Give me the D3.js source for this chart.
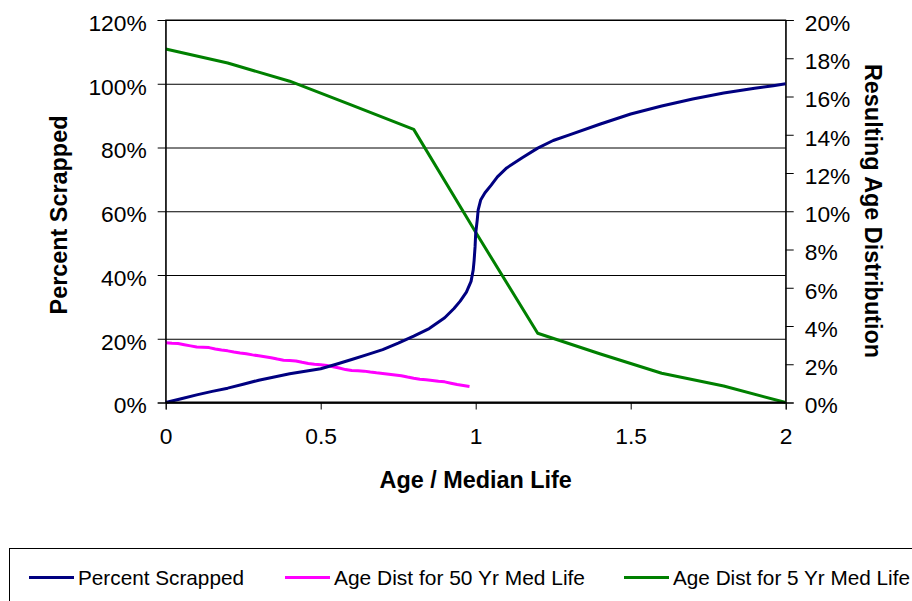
<!DOCTYPE html>
<html>
<head>
<meta charset="utf-8">
<script src="https://cdn.jsdelivr.net/npm/d3@7"></script>
<style>
  html, body { margin: 0; padding: 0; background: #fff; }
  svg { display: block; font-family: "Liberation Sans", Arial, sans-serif; }
</style>
</head>
<body>
<svg id="chart" width="912" height="601"></svg>
<script>
// ---- Data ----
const scrappedAge = [0, 0.05, 0.1, 0.15, 0.2, 0.25, 0.3, 0.35, 0.4, 0.45, 0.5, 0.55, 0.6, 0.65, 0.7, 0.75, 0.8, 0.85, 0.9, 0.93, 0.95, 0.97, 0.985, 0.992, 0.995, 0.998, 1.0, 1.005, 1.008, 1.016, 1.03, 1.05, 1.07, 1.1, 1.15, 1.2, 1.25, 1.3, 1.4, 1.5, 1.6, 1.7, 1.8, 1.9, 1.96, 2.0];
const scrappedPct = [0, 1.2, 2.4, 3.5, 4.5, 5.7, 7.0, 8.0, 9.0, 9.8, 10.6, 12.0, 13.5, 15.0, 16.6, 18.6, 20.8, 23.2, 26.6, 29.5, 31.8, 34.6, 38.0, 41.6, 44.7, 48.9, 53.1, 57.3, 60.4, 63.5, 65.8, 68.2, 70.8, 73.6, 76.8, 79.8, 82.2, 83.9, 87.3, 90.5, 93.0, 95.2, 97.1, 98.6, 99.4, 100];

const dist50Age = [0, 0.02, 0.04, 0.06, 0.08, 0.1, 0.12, 0.14, 0.16, 0.18, 0.2, 0.22, 0.24, 0.26, 0.28, 0.3, 0.32, 0.34, 0.36, 0.38, 0.4, 0.42, 0.44, 0.46, 0.48, 0.5, 0.52, 0.54, 0.56, 0.58, 0.6, 0.62, 0.64, 0.66, 0.68, 0.7, 0.72, 0.74, 0.76, 0.78, 0.8, 0.82, 0.84, 0.86, 0.88, 0.9, 0.92, 0.94, 0.96, 0.98];
const dist50Pct = [3.13, 3.10, 3.08, 3.02, 2.96, 2.90, 2.89, 2.87, 2.80, 2.74, 2.70, 2.64, 2.59, 2.55, 2.49, 2.44, 2.39, 2.34, 2.27, 2.21, 2.19, 2.17, 2.10, 2.04, 2.00, 1.97, 1.93, 1.87, 1.80, 1.72, 1.67, 1.66, 1.64, 1.59, 1.55, 1.52, 1.48, 1.44, 1.40, 1.33, 1.27, 1.22, 1.19, 1.15, 1.11, 1.08, 1.01, 0.94, 0.89, 0.84];

const dist5Age = [0, 0.2, 0.4, 0.6, 0.8, 1.0, 1.2, 1.4, 1.6, 1.8, 2.0];
const dist5Pct = [18.48, 17.75, 16.8, 15.55, 14.28, 8.9, 3.62, 2.55, 1.53, 0.86, 0];

const xTicks = [0, 0.5, 1, 1.5, 2];
const leftTicks = [0, 20, 40, 60, 80, 100, 120];
const rightTicks = [0, 2, 4, 6, 8, 10, 12, 14, 16, 18, 20];

const seriesNames = ["Percent Scrapped", "Age Dist for 50 Yr Med Life", "Age Dist for 5 Yr Med Life"];
const seriesColors = ["#000080", "#FF00FF", "#008000"];

// ---- Layout ----
const svg = d3.select("#chart");
const L = 165.7, R = 785.7, T = 20, B = 402.5;

const x = d3.scaleLinear().domain([0, 2]).range([L, R]);
const yL = d3.scaleLinear().domain([0, 120]).range([B, T]);
const yR = d3.scaleLinear().domain([0, 20]).range([B, T]);

// gridlines
svg.append("g")
  .attr("transform", `translate(${L},0)`)
  .call(d3.axisLeft(yL).tickValues(leftTicks).tickSize(-(R - L)).tickFormat(""))
  .call(g => g.select(".domain").remove())
  .call(g => g.selectAll("line").attr("stroke", "#000").attr("stroke-width", 1));

// frame
svg.append("rect").attr("x", L).attr("y", T).attr("width", R - L).attr("height", B - T)
  .attr("fill", "none").attr("stroke", "#000").attr("stroke-width", 1);

// series
const line = (xs, ys, yScale) => d3.line().x((d, i) => x(xs[i])).y((d, i) => yScale(ys[i]))(ys);

svg.append("path").attr("d", line(dist5Age, dist5Pct, yR))
  .attr("fill", "none").attr("stroke", seriesColors[2]).attr("stroke-width", 3).attr("stroke-linejoin", "round");
svg.append("path").attr("d", line(dist50Age, dist50Pct, yR))
  .attr("fill", "none").attr("stroke", seriesColors[1]).attr("stroke-width", 3).attr("stroke-linejoin", "round");
svg.append("path").attr("d", line(scrappedAge, scrappedPct, yL))
  .attr("fill", "none").attr("stroke", seriesColors[0]).attr("stroke-width", 3).attr("stroke-linejoin", "round");

// bottom axis line (thicker)
svg.append("line").attr("x1", L).attr("x2", R).attr("y1", B).attr("y2", B)
  .attr("stroke", "#000").attr("stroke-width", 2);

// axes
const fmtPct = d => d + "%";
const gL = svg.append("g").attr("transform", `translate(${L},0)`)
  .call(d3.axisLeft(yL).tickValues(leftTicks).tickSize(8).tickPadding(11).tickFormat(fmtPct));
const gR = svg.append("g").attr("transform", `translate(${R},0)`)
  .call(d3.axisRight(yR).tickValues(rightTicks).tickSize(8).tickPadding(11).tickFormat(fmtPct));
const gX = svg.append("g").attr("transform", `translate(0,${B})`)
  .call(d3.axisBottom(x).tickValues(xTicks).tickSize(7).tickPadding(10).tickFormat(d3.format("")));

[gL, gR, gX].forEach(g => {
  g.select(".domain").attr("stroke", "#000");
  g.selectAll(".tick line").attr("stroke", "#000");
  g.selectAll("text").attr("font-size", 22.8).attr("font-family", "Liberation Sans, Arial, sans-serif").attr("fill", "#000");
});
gL.selectAll("text").attr("dy", "0.45em");
gR.selectAll("text").attr("dy", "0.45em");
gX.selectAll("text").attr("y", 25).attr("dy", "0.71em");

// axis titles
svg.append("text").attr("transform", "translate(67,215) rotate(-90)")
  .attr("text-anchor", "middle").attr("font-weight", "bold").attr("font-size", 23.4)
  .text("Percent Scrapped");
svg.append("text").attr("transform", "translate(865,211) rotate(90)")
  .attr("text-anchor", "middle").attr("font-weight", "bold").attr("font-size", 23.4)
  .text("Resulting Age Distribution");
svg.append("text").attr("x", (L + R) / 2).attr("y", 488)
  .attr("text-anchor", "middle").attr("font-weight", "bold").attr("font-size", 23.4)
  .text("Age / Median Life");

// legend
svg.append("rect").attr("x", 9.5).attr("y", 548.5).attr("width", 920).attr("height", 70)
  .attr("fill", "#fff").attr("stroke", "#000").attr("stroke-width", 1);
const legX = [29, 285, 624];
const legW = [166, 251, 237];
seriesNames.forEach((name, i) => {
  const g = svg.append("g").attr("transform", `translate(${legX[i]},577.5)`);
  g.append("line").attr("x1", 0).attr("x2", 45).attr("y1", 0).attr("y2", 0)
    .attr("stroke", seriesColors[i]).attr("stroke-width", 3);
  g.append("text").attr("x", 49).attr("y", 0).attr("dy", "0.36em")
    .attr("font-size", 21).attr("fill", "#000")
    .attr("textLength", legW[i]).attr("lengthAdjust", "spacingAndGlyphs")
    .text(name);
});
</script>
</body>
</html>
